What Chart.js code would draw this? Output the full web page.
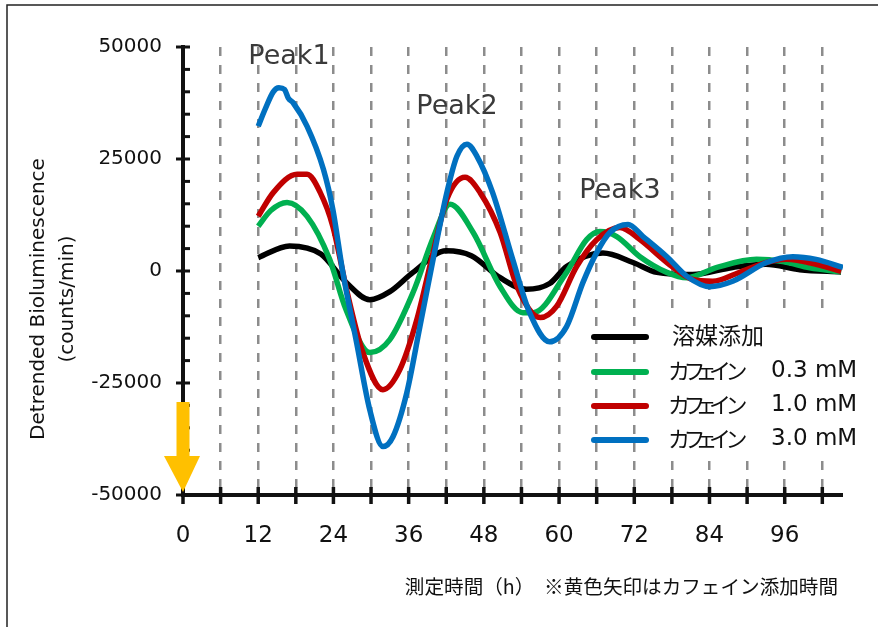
<!DOCTYPE html>
<html>
<head>
<meta charset="utf-8">
<script src="https://cdn.jsdelivr.net/npm/chart.js@4.4.1/dist/chart.umd.min.js"></script>
<style>
  html, body { margin: 0; padding: 0; background: #fff; }
  canvas { display: block; }
</style>
</head>
<body>
<canvas id="chart" width="878" height="627"></canvas>
<script>
// --- データ ---
const seriesNames = ["溶媒添加", "カフェイン", "カフェイン", "カフェイン"];
const seriesDoses = ["", "0.3 mM", "1.0 mM", "3.0 mM"];
const seriesColors = ["#000000", "#00b050", "#c00000", "#0070c0"];

const vehicleHours = [12, 17, 22, 26, 29.8, 33, 36.7, 42, 46, 50.6, 54.8, 58.5, 61.2, 67, 71.8, 75.6, 81.3, 87.7, 93, 98.4, 105];
const vehicleValues = [3000, 5600, 3800, -2500, -6400, -4600, -300, 4500, 3400, -1500, -4100, -2800, 1000, 4000, 1900, -300, -800, 800, 1500, 300, -200];

const caf03Hours = [12, 14, 16.6, 19.8, 23.4, 26, 29.8, 33, 36.7, 40, 42.6, 46.3, 50.6, 54.2, 55.9, 61.2, 64.4, 66.5, 69.2, 72.9, 77.2, 80.4, 85.2, 91.5, 95.7, 100, 105];
const caf03Values = [10000, 13500, 15300, 12200, 2600, -8600, -18200, -15300, -4800, 7700, 14900, 8600, -3500, -9300, -9300, -300, 7000, 8800, 7700, 3200, -300, -1500, 800, 2600, 2100, 700, -200];

const caf10Hours = [12, 14.4, 18.2, 19.8, 21.9, 23.9, 26.2, 28.7, 31.9, 34.6, 37.3, 39.9, 42.1, 45, 47.4, 50.6, 53.3, 57, 59.6, 62.8, 66, 69.7, 72.9, 77.2, 81.3, 84.5, 88.8, 93.1, 96.3, 101, 105];
const caf10Values = [12200, 17500, 21600, 21600, 17500, 10000, -4800, -18200, -26500, -22000, -10900, 4100, 16000, 20900, 17500, 8600, -3500, -10400, -7900, 1000, 7000, 9700, 7000, 1900, -1900, -2300, -300, 1900, 2600, 1500, -100];

const caf30Hours = [12, 13.1, 14.4, 15.3, 16.2, 16.8, 17.6, 19.8, 22.4, 23.9, 25.5, 27.7, 29.8, 31.9, 33.5, 35.7, 37.8, 39.9, 42.1, 43.7, 45.3, 46.9, 49.4, 52.6, 55.3, 58.5, 61.2, 63.8, 66, 68.1, 71, 73.4, 77.2, 80.4, 84, 87.7, 93.1, 97.3, 101, 105.3];
const caf30Values = [32300, 36100, 40000, 40900, 40500, 38600, 37500, 32300, 22700, 13800, -300, -16000, -31000, -39200, -37000, -27200, -12400, 2600, 17500, 25600, 28300, 25600, 17500, 2600, -9300, -15800, -12400, -2600, 4100, 8600, 10400, 7700, 3200, -1200, -3500, -2300, 1900, 3200, 2600, 800];

const xTickStep = 6;      // 破線グリッド間隔 (h)
const xLabelStep = 12;    // 目盛ラベル間隔 (h)
const yTickStep = 25000;
const yMinorStep = 5000;

const peakLabels = [
  { text: "Peak1", x: 289, y: 57 },
  { text: "Peak2", x: 457, y: 107 },
  { text: "Peak3", x: 620, y: 191 },
];

const toPoints = (hs, vs) => hs.map((h, i) => ({ x: h, y: vs[i] }));
const allSeries = [
  toPoints(vehicleHours, vehicleValues),
  toPoints(caf03Hours, caf03Values),
  toPoints(caf10Hours, caf10Values),
  toPoints(caf30Hours, caf30Values),
];

const LATIN = "'DejaVu Sans', 'Noto Sans CJK JP', sans-serif";
const CJK = "'Noto Sans CJK JP', sans-serif";
// カナのプロポーショナル字送り（凡例）
const kanaCenters = [679, 694.5, 706.5, 720, 736.5];

// 軸・矢印・凡例・注記の描画
const decorPlugin = {
  id: "decor",
  beforeDraw(chart) {
    const { ctx } = chart;
    ctx.save();
    ctx.fillStyle = "#fff";
    ctx.fillRect(0, 0, chart.width, chart.height);
    // 外枠
    ctx.strokeStyle = "#222";
    ctx.lineWidth = 1.5;
    ctx.beginPath();
    ctx.moveTo(7, chart.height);
    ctx.lineTo(7, 5);
    ctx.lineTo(chart.width, 5);
    ctx.stroke();
    ctx.restore();
  },
  afterDatasetsDraw(chart) {
    const { ctx, chartArea, scales } = chart;
    const xs = scales.x, ys = scales.y;
    const x0 = xs.getPixelForValue(0);
    const yBottom = ys.getPixelForValue(-50000);
    ctx.save();
    ctx.strokeStyle = "#111";
    ctx.lineWidth = 4;
    ctx.lineCap = "butt";
    // Y軸
    ctx.beginPath();
    ctx.moveTo(x0, ys.getPixelForValue(50000) - 2);
    ctx.lineTo(x0, yBottom + 2);
    ctx.stroke();
    ctx.lineWidth = 3;
    for (let v = -50000; v <= 50000; v += yMinorStep) {
      const py = ys.getPixelForValue(v);
      const major = v % yTickStep === 0;
      ctx.beginPath();
      ctx.moveTo(major ? x0 - 7 : x0, py);
      ctx.lineTo(x0 + 7, py);
      ctx.stroke();
    }
    // X軸
    ctx.lineWidth = 4;
    ctx.beginPath();
    ctx.moveTo(x0, yBottom);
    ctx.lineTo(chartArea.right, yBottom);
    ctx.stroke();
    ctx.lineWidth = 3.5;
    for (let h = 0; h <= xs.max; h += xTickStep) {
      const px = xs.getPixelForValue(h);
      ctx.beginPath();
      ctx.moveTo(px, yBottom - 8);
      ctx.lineTo(px, yBottom + 9);
      ctx.stroke();
    }
    // 黄色矢印（カフェイン添加時間）
    ctx.fillStyle = "#ffc000";
    ctx.fillRect(x0 - 6.5, 402, 13, 55);
    ctx.beginPath();
    ctx.moveTo(x0 - 19, 456);
    ctx.lineTo(x0 + 17, 456);
    ctx.lineTo(x0, 492);
    ctx.closePath();
    ctx.fill();

    // Peak ラベル
    ctx.fillStyle = "#3a3a3a";
    ctx.font = "27px " + LATIN;
    ctx.textAlign = "center";
    ctx.textBaseline = "middle";
    peakLabels.forEach((p) => ctx.fillText(p.text, p.x, p.y));

    // 凡例
    ctx.fillStyle = "#fff";
    ctx.fillRect(652, 316, 218, 140);
    const legendY = [337, 372, 406, 440];
    ctx.lineCap = "round";
    ctx.lineWidth = 6;
    seriesNames.forEach((name, i) => {
      ctx.strokeStyle = seriesColors[i];
      ctx.beginPath();
      ctx.moveTo(594, legendY[i]);
      ctx.lineTo(646, legendY[i]);
      ctx.stroke();
      ctx.fillStyle = "#111";
      if (seriesDoses[i]) {
        ctx.font = "22px " + CJK;
        ctx.textAlign = "center";
        [...name].forEach((ch, k) => ctx.fillText(ch, kanaCenters[k], legendY[i] - 1));
        ctx.textAlign = "left";
        ctx.font = "23px " + LATIN;
        ctx.fillText(seriesDoses[i], 771, legendY[i] - 1);
      } else {
        ctx.textAlign = "left";
        ctx.font = "23px " + CJK;
        ctx.fillText(name, 672, legendY[i] - 2);
      }
    });

    // 軸タイトル
    ctx.fillStyle = "#111";
    ctx.font = "20px " + LATIN;
    ctx.save();
    ctx.translate(39, 299);
    ctx.rotate(-Math.PI / 2);
    ctx.textAlign = "center";
    ctx.fillText("Detrended Bioluminescence", 0, 0);
    ctx.fillText("(counts/min)", 0, 29);
    ctx.restore();
    ctx.font = "19.6px " + CJK;
    ctx.textAlign = "right";
    ctx.fillText("測定時間（h）　※黄色矢印はカフェイン添加時間", 838, 587);
    ctx.restore();
  },
};

const ctx = document.getElementById("chart").getContext("2d");
new Chart(ctx, {
  type: "line",
  data: {
    datasets: allSeries.map((pts, i) => ({
      label: (seriesNames[i] + "  " + seriesDoses[i]).trim(),
      data: pts,
      borderColor: seriesColors[i],
      backgroundColor: seriesColors[i],
      borderWidth: 5.5,
      pointRadius: 0,
      cubicInterpolationMode: "monotone",
      order: 4 - i,
    })),
  },
  options: {
    responsive: false,
    animation: false,
    layout: { padding: { top: 47, right: 35, left: 0, bottom: 0 } },
    scales: {
      x: {
        type: "linear",
        min: 0,
        max: 105.3,
        border: { display: false, dash: [9, 9] },
        grid: {
          color: "#8c8c8c",
          lineWidth: 2.5,
          drawTicks: false,
        },
        ticks: {
          stepSize: xTickStep,
          includeBounds: false,
          autoSkip: false,
          maxRotation: 0,
          padding: 27,
          color: "#111",
          font: { family: LATIN, size: 23 },
          callback: (v) => (v % xLabelStep === 0 ? String(v) : ""),
        },
        afterFit: (s) => { s.height = 132; },
      },
      y: {
        min: -50000,
        max: 50000,
        border: { display: false },
        grid: { display: false, drawTicks: false },
        ticks: {
          stepSize: yTickStep,
          padding: 21,
          color: "#111",
          font: { family: LATIN, size: 20 },
          callback: (v) => String(v),
        },
        afterFit: (s) => { s.width = 183; },
      },
    },
    plugins: {
      legend: { display: false },
      tooltip: { enabled: false },
    },
  },
  plugins: [decorPlugin],
});
</script>
</body>
</html>
